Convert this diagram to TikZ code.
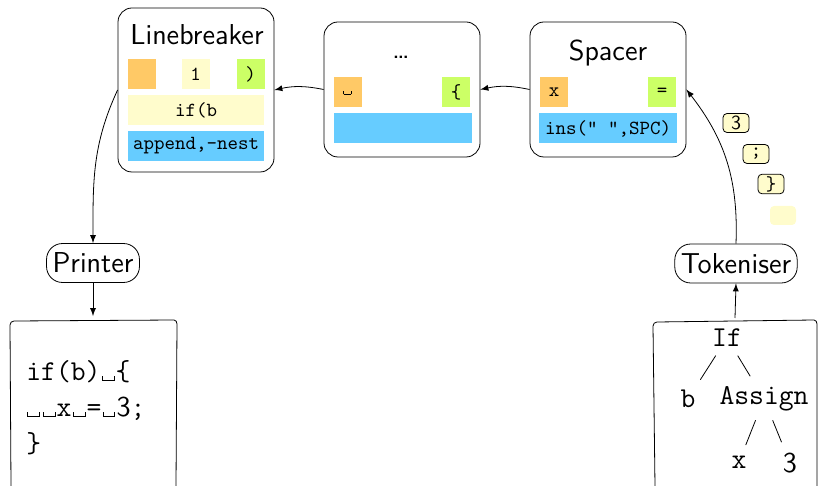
\documentclass[tikz,border=0pt]{standalone}
\usepackage{fontspec}
\definecolor{cellorange}{HTML}{FFC966}
\definecolor{cellgreen}{HTML}{CCFF66}
\definecolor{cellyellow}{HTML}{FFFCCC}
\definecolor{cellblue}{HTML}{66CCFF}
\newcommand{\vsp}{\makebox[0.525em]{\rule{0.035em}{0.18em}\rule{0.38em}{0.035em}\rule{0.035em}{0.18em}}}
\begin{document}
\begin{tikzpicture}
[x=0.5pt,y=-0.5pt,
  stagedecorate/.style={shape=rectangle,draw,rounded corners=7pt,minimum width=78pt,minimum height=67.5pt},%
  titledecorate/.style={font=\sffamily\Large,inner sep=0pt},%
  celldecorate/.style={shape=rectangle,inner sep=0pt,minimum width=14pt,minimum height=15pt,font=\ttfamily},%
  widedecorate/.style={celldecorate,minimum width=68pt},%
  pilldecorate/.style={shape=rectangle,draw,rounded corners=8pt,inner xsep=3pt,inner ysep=1pt,minimum height=19.5pt,font=\sffamily\Large},%
  tokendecorate/.style={shape=rectangle,draw,rounded corners=2pt,fill=cellyellow,inner sep=1pt,minimum width=13pt,minimum height=9.5pt,font=\ttfamily},%
  treedecorate/.style={font=\ttfamily\Large},%
  linedecorate/.style={-latex,thin},%
  treeedge/.style={-,thin,shorten <=1pt,shorten >=2pt}]
\useasboundingbox (0,0) rectangle (819,486);
%%
%% pipeline stages
\node (lb) at (196,90) [stagedecorate,minimum height=82pt] {};
\node (dots) at (402,89.5) [stagedecorate] {};
\node (sp) at (608,89.5) [stagedecorate] {};
\node (lbtitle) at (197,35) [titledecorate] {Linebreaker};
\node (dotstitle) at (401,57) [titledecorate] {\ldots};
\node (sptitle) at (608,53) [titledecorate] {Spacer};
%% buffer cells
\node (lbcella) at (141.5,74.5) [celldecorate,fill=cellorange] {};
\node (lbcellb) at (195.5,74.5) [celldecorate,fill=cellyellow] {1};
\node (lbcellc) at (250.5,74.5) [celldecorate,fill=cellgreen] {)};
\node (lbline) at (196,110) [widedecorate,fill=cellyellow] {if(b};
\node (lbact) at (196,146) [widedecorate,fill=cellblue] {append,-nest};
\node (dotscella) at (347.5,92.5) [celldecorate,fill=cellorange] {\vsp};
\node (dotscellb) at (456,92.5) [celldecorate,fill=cellgreen] {\{};
\node (dotsact) at (403,128.5) [widedecorate,minimum width=69pt,fill=cellblue] {};
\node (spcella) at (554,92.5) [celldecorate,fill=cellorange] {x};
\node (spcellb) at (662,92.5) [celldecorate,fill=cellgreen] {=};
\node (spact) at (608,128.5) [widedecorate,minimum width=69pt,fill=cellblue] {ins(" ",SPC)};
%%
%% printer and tokeniser
\node (printer) at (93,263) [pilldecorate] {Printer};
\node (tok) at (736,263.5) [pilldecorate] {Tokeniser};
%% tokens on their way
\foreach \nodename/\x/\y/\txt in {tokthree/736/123/{\sffamily 3}, toksemi/756/154/;,
  tokclose/771/184/{\}}} {
  \node (\nodename) at (\x,\y) [tokendecorate] {\txt};
}
\node (tokempty) at (783,215.5) [tokendecorate,draw=none] {};
%%
%% output text and input tree
\coordinate (codetop) at (93,316);
\coordinate (treetop) at (735,318);
\draw[thin] (11,486) -- (10,325) to[out=90,in=180] (14,321) -- (174,320)
  to[out=0,in=90] (177,324) -- (176,486);
\draw[thin] (655,486) -- (653,326) to[out=90,in=180] (657,322) -- (814,320)
  to[out=0,in=90] (817,324) -- (817,486);
\node (code) at (26,408) [anchor=west,align=left,font=\ttfamily\Large,inner sep=0pt]
  {if(b)\vsp\{\\
   \vsp\vsp x\vsp=\vsp{\sffamily 3};\\
   \}};
%% tree nodes
\foreach \nodename/\x/\y/\txt in {treeif/727/338/If, treeb/688/399/b,
  treeassign/764/399/Assign, treex/739/462/x, treethree/790/463/{\sffamily 3}} {
  \node (\nodename) at (\x,\y) [treedecorate] {\txt};
}
%% tree edges
\path
\foreach \startnode/\endnode in {treeif/treeb, treeif/treeassign,
  treeassign/treex, treeassign/treethree} {
  (\startnode) edge[treeedge] (\endnode)
};
%%
%% data flow
\draw[linedecorate] (tok.north) to[bend right=20] (sp.east);
\draw[linedecorate] (sp.west) to[bend right=12] (dots.east);
\draw[linedecorate] (dots.west) to[bend right=12] (lb.east);
\draw[linedecorate] (lb.west) to[out=-115,in=90] (printer.north);
\draw[linedecorate] (printer.south) -- (codetop);
\draw[linedecorate] (treetop) -- (tok.south);
\end{tikzpicture}
\end{document}
